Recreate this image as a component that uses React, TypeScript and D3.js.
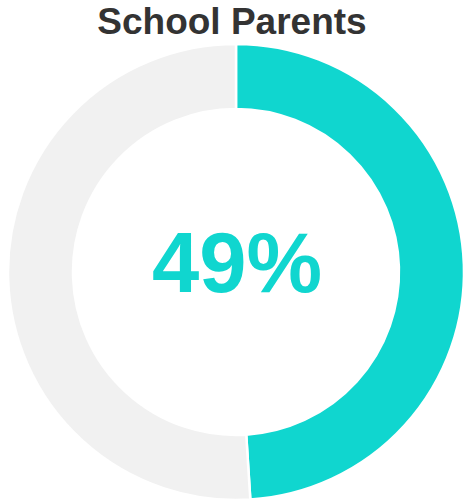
import React from "react";
import * as d3 from "d3";

const title = "School Parents";
const categories = ["School Parents", "Other"];
const values = [49, 51];
const colors = ["#10d6cf", "#f1f1f1"];

export default function App() {
  const width = 467;
  const height = 501;
  const cx = 236;
  const cy = 272;
  const outerR = 228;
  const innerR = 163;
  const pie = d3.pie<number>().sort(null).value((d) => d);
  const arcs = pie(values);
  const arc = d3.arc<d3.PieArcDatum<number>>().innerRadius(innerR).outerRadius(outerR);
  return (
    <svg width={width} height={height} style={{ position: "absolute", left: 0, top: 0 }}>
      <rect width={width} height={height} fill="#fff" />
      <text x={cx - 4} y={34} textAnchor="middle" fontFamily="Liberation Sans, Arial, sans-serif" fontWeight="bold" fontSize={37} fill="#333">
        {title}
      </text>
      <g transform={`translate(${cx},${cy})`}>
        {arcs.map((a, i) => (
          <path key={categories[i]} d={arc(a) || ""} fill={colors[i]} stroke="#fff" strokeWidth={2.5} />
        ))}
        <text x={1} y={20} textAnchor="middle" fontFamily="Liberation Sans, Arial, sans-serif" fontWeight="bold" fontSize={85} fill={colors[0]}>
          {values[0]}%
        </text>
      </g>
    </svg>
  );
}
